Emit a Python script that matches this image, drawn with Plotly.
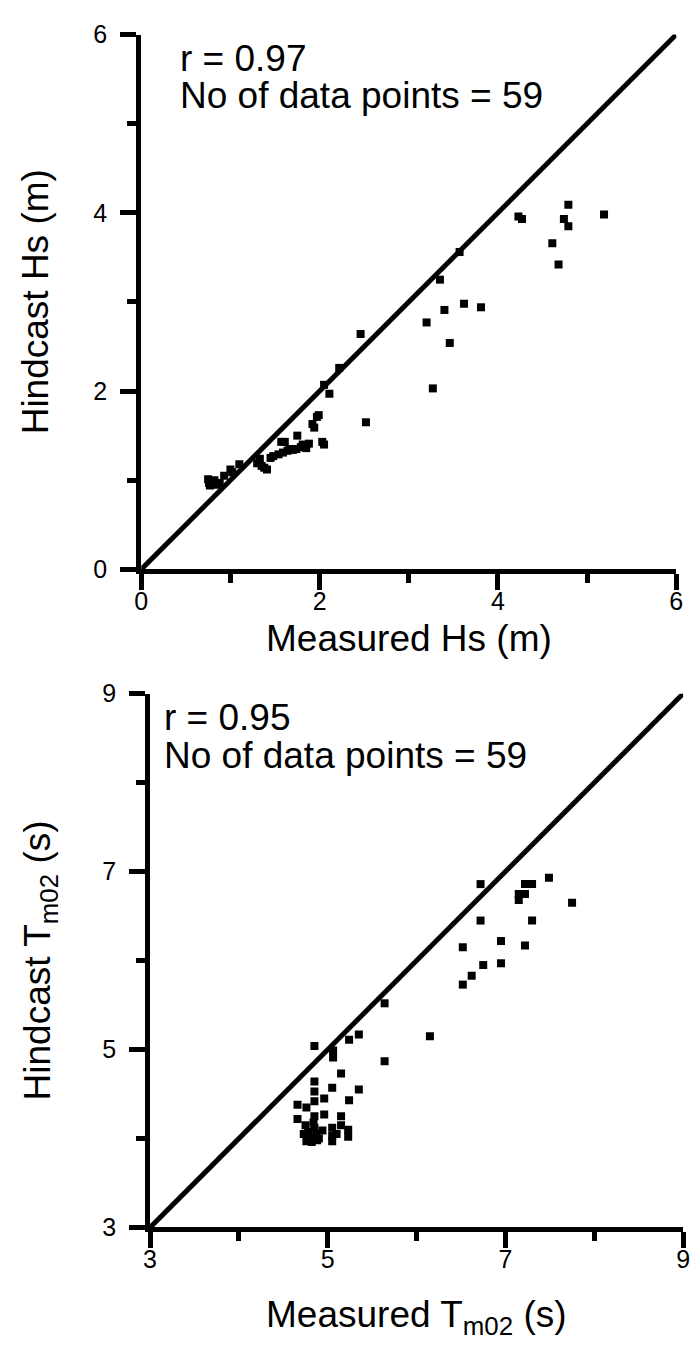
import plotly.graph_objects as go

# Significant wave height: measured vs hindcast (m)
hs_measured = [0.75, 0.77, 0.78, 0.80, 0.82, 0.76, 0.85, 0.93, 1.00, 1.02,
               1.10, 1.30, 1.33, 1.35, 1.41, 1.45, 1.48, 1.54, 1.57, 1.59,
               1.61, 1.64, 1.66, 1.70, 1.74, 1.75, 1.79, 1.81, 1.85, 1.88,
               1.92, 1.94, 1.97, 1.99, 2.03, 2.05, 2.05, 2.11, 2.22, 2.46,
               2.52, 3.20, 3.27, 3.35, 3.40, 3.46, 3.57, 3.62, 3.81, 4.23,
               4.27, 4.61, 4.68, 4.74, 4.79, 4.79, 5.19, 0.88, 1.38]
hs_hindcast = [1.01, 0.94, 0.98, 0.96, 1.00, 0.97, 0.95, 1.05, 1.12, 1.09,
               1.18, 1.19, 1.24, 1.16, 1.12, 1.25, 1.27, 1.29, 1.43, 1.31,
               1.43, 1.33, 1.35, 1.34, 1.35, 1.50, 1.37, 1.40, 1.36, 1.41,
               1.63, 1.59, 1.71, 1.73, 1.43, 1.40, 2.07, 1.97, 2.26, 2.64,
               1.65, 2.77, 2.03, 3.25, 2.91, 2.54, 3.56, 2.98, 2.94, 3.96,
               3.93, 3.66, 3.42, 3.93, 3.85, 4.09, 3.98, 0.97, 1.14]

# Mean wave period Tm02: measured vs hindcast (s)
tm_measured = [7.49, 6.72, 7.22, 7.30, 7.15, 7.22, 7.15, 7.75, 7.30, 6.72,
               6.95, 6.52, 7.22, 6.95, 6.75, 6.62, 6.52, 6.15, 5.64, 5.64,
               4.85, 5.06, 5.06, 5.24, 5.35, 5.15, 4.85, 5.05, 5.35, 4.85,
               4.96, 5.24, 4.85, 4.66, 4.76, 4.96, 4.66, 4.85, 5.15, 4.75,
               4.78, 4.80, 4.82, 4.85, 4.87, 4.88, 4.76, 4.84, 4.79, 4.94,
               5.05, 5.05, 5.05, 5.15, 5.23, 5.23, 5.10, 4.90, 4.73]
tm_hindcast = [6.93, 6.86, 6.86, 6.86, 6.75, 6.75, 6.68, 6.65, 6.45, 6.45,
               6.22, 6.15, 6.17, 5.97, 5.95, 5.83, 5.73, 5.15, 5.52, 4.87,
               5.04, 4.99, 4.91, 5.11, 5.17, 4.73, 4.64, 4.57, 4.55, 4.53,
               4.45, 4.43, 4.42, 4.38, 4.35, 4.27, 4.22, 4.25, 4.25, 4.15,
               4.08, 4.02, 3.96, 4.12, 4.05, 3.98, 3.97, 4.18, 4.00, 4.09,
               4.12, 4.03, 3.97, 4.15, 4.10, 4.02, 4.05, 4.00, 4.05]

hs_range = [0, 6]
tm_range = [3, 9]

W, H = 696, 1360
FONT = "Liberation Sans, Arial, sans-serif"


def fx(px):
    return px / W


def fy(py):
    return 1 - py / H


fig = go.Figure()

marker = dict(symbol="square", size=8, color="black")
diag = dict(color="black", width=5)

fig.add_trace(go.Scatter(x=hs_range, y=hs_range, mode="lines", line=diag,
                         xaxis="x", yaxis="y", showlegend=False))
fig.add_trace(go.Scatter(x=hs_measured, y=hs_hindcast, mode="markers",
                         marker=marker, xaxis="x", yaxis="y", showlegend=False))

fig.add_trace(go.Scatter(x=tm_range, y=tm_range, mode="lines", line=diag,
                         xaxis="x2", yaxis="y2", showlegend=False))
fig.add_trace(go.Scatter(x=tm_measured, y=tm_hindcast, mode="markers",
                         marker=marker, xaxis="x2", yaxis="y2", showlegend=False))


def axis_style(rng, dom, anchor, major, standoff):
    return dict(
        range=rng, domain=dom, anchor=anchor,
        showline=True, linecolor="black", linewidth=5,
        showgrid=False, zeroline=False,
        ticks="outside", ticklen=16, tickwidth=4.5, tickcolor="black",
        tick0=rng[0], dtick=major,
        minor=dict(ticks="outside", ticklen=9, tickwidth=4.5,
                   tickcolor="black", dtick=major / 2, showgrid=False),
        tickfont=dict(family=FONT, size=25, color="black"),
        ticklabelstandoff=standoff,
        fixedrange=True,
    )


fig.update_layout(
    width=W, height=H,
    margin=dict(l=0, r=0, t=0, b=0),
    paper_bgcolor="white", plot_bgcolor="white",
    showlegend=False,
    xaxis=axis_style(hs_range, [fx(137), fx(683)], "y", 2, -10),
    yaxis=axis_style(hs_range, [fy(567), fy(21)], "x", 2, 8),
    xaxis2=axis_style(tm_range, [fx(146), fx(690)], "y2", 2, -10),
    yaxis2=axis_style(tm_range, [fy(1239), fy(694)], "x2", 2, 8),
)

ann_font = dict(family=FONT, size=37, color="black")
title_font = dict(family=FONT, size=37, color="black")

annotations = [
    dict(x=fx(174), y=fy(45), text="r = 0.97"),
    dict(x=fx(174), y=fy(83), text="No of data points = 59"),
    dict(x=fx(158), y=fy(718), text="r = 0.95"),
    dict(x=fx(158), y=fy(757), text="No of data points = 59"),
]
for a in annotations:
    a.update(xref="paper", yref="paper", showarrow=False, font=ann_font,
             xanchor="left", yanchor="middle")

titles = [
    dict(x=fx(410), y=fy(638), text="Measured Hs (m)", textangle=0),
    dict(x=fx(30), y=fy(294), text="Hindcast Hs (m)", textangle=-90),
    dict(x=fx(418), y=fy(1330), text="Measured T<sub>m02</sub> (s)", textangle=0),
    dict(x=fx(34), y=fy(966), text="Hindcast T<sub>m02</sub> (s)", textangle=-90),
]
for t in titles:
    t.update(xref="paper", yref="paper", showarrow=False, font=title_font,
             xanchor="center", yanchor="middle")

fig.update_layout(annotations=annotations + titles)

fig.write_html("out.html")
